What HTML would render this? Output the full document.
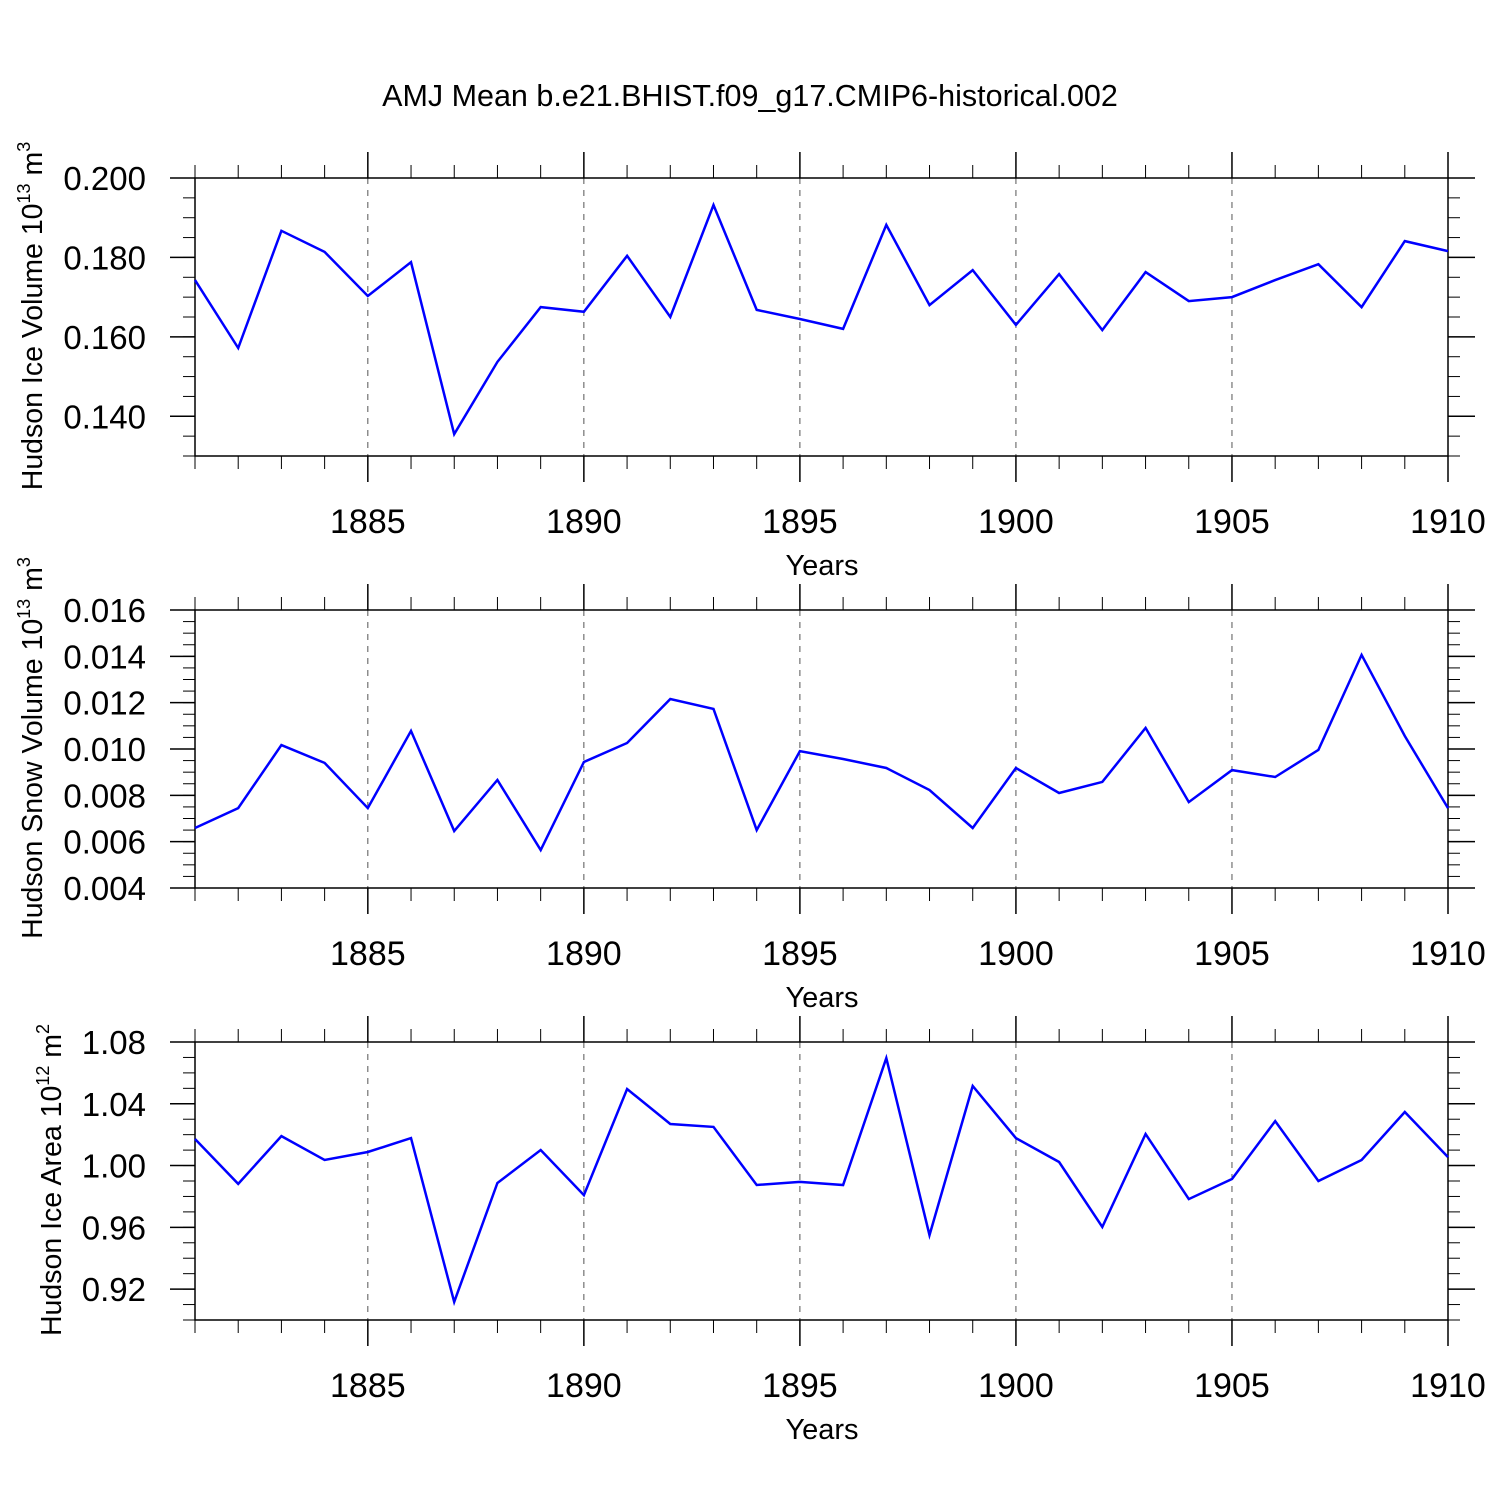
<!DOCTYPE html>
<html><head><meta charset="utf-8"><style>
html,body{margin:0;padding:0;background:#fff;}
svg{display:block;font-family:"Liberation Sans",sans-serif;}
</style></head><body>
<svg id="chart" width="1500" height="1500" viewBox="0 0 1500 1500">
<text x="750" y="106" text-anchor="middle" font-size="30.5">AMJ Mean b.e21.BHIST.f09_g17.CMIP6-historical.002</text>
</svg>
<script>
const years = [1881,1882,1883,1884,1885,1886,1887,1888,1889,1890,1891,1892,1893,1894,1895,1896,1897,1898,1899,1900,1901,1902,1903,1904,1905,1906,1907,1908,1909,1910];
const iceVolume = [0.1743,0.1572,0.1867,0.1814,0.1703,0.1788,0.1355,0.1537,0.1675,0.1663,0.1804,0.1650,0.1932,0.1668,0.1645,0.1620,0.1882,0.1680,0.1768,0.1630,0.1758,0.1617,0.1763,0.1690,0.1700,0.1743,0.1783,0.1675,0.1841,0.1816];
const snowVolume = [0.00659,0.00745,0.01017,0.00940,0.00745,0.01078,0.00646,0.00866,0.00564,0.00944,0.01026,0.01216,0.01173,0.00650,0.00991,0.00957,0.00918,0.00823,0.00659,0.00918,0.00810,0.00858,0.01091,0.00771,0.00909,0.00879,0.00996,0.01406,0.01056,0.00745];
const iceArea = [1.0172,0.9881,1.0191,1.0036,1.0088,1.0178,0.9117,0.9887,1.0101,0.9809,1.0496,1.0269,1.0250,0.9874,0.9894,0.9874,1.0696,0.9550,1.0515,1.0178,1.0023,0.9602,1.0204,0.9783,0.9913,1.0288,0.9900,1.0036,1.0347,1.0055];
const xTickLabels = [1885,1890,1895,1900,1905,1910];
const iceVolTicks = ["0.140","0.160","0.180","0.200"];
const snowVolTicks = ["0.004","0.006","0.008","0.010","0.012","0.014","0.016"];
const iceAreaTicks = ["0.92","0.96","1.00","1.04","1.08"];

const NS="http://www.w3.org/2000/svg";
const svg=document.getElementById('chart');
function mk(tag,attrs,parent){const e=document.createElementNS(NS,tag);for(const k in attrs)e.setAttribute(k,attrs[k]);(parent||svg).appendChild(e);return e;}
const L=195,R=1448,H=278;
const xScale=y=>L+(y-1881)/(1910-1881)*(R-L);

const panels=[
 {name:'ice-volume',top:178,min:0.130,max:0.200,data:iceVolume,ticks:iceVolTicks,minor:0.005,title:'Hudson Ice Volume 10',sup:'13',unit:' m',usup:'3',tx:42},
 {name:'snow-volume',top:610,min:0.004,max:0.016,data:snowVolume,ticks:snowVolTicks,minor:0.0005,title:'Hudson Snow Volume 10',sup:'13',unit:' m',usup:'3',tx:42},
 {name:'ice-area',top:1042,min:0.90,max:1.08,data:iceArea,ticks:iceAreaTicks,minor:0.01,title:'Hudson Ice Area 10',sup:'12',unit:' m',usup:'2',tx:61}
];
panels.forEach(p=>{
 const g=mk('g',{});
 
 
 const B=p.top+H;
 const yScale=v=>B-(v-p.min)/(p.max-p.min)*H;
 xTickLabels.forEach(y=>{if(y<1910){const l=mk('line',{x1:xScale(y),x2:xScale(y),y1:p.top,y2:B,stroke:'#555','stroke-width':1,'stroke-dasharray':'6,6'},g);
  }});
 for(let y=1881;y<=1910;y++){const major=y%5===0;const len=major?26:13;
  mk('line',{x1:xScale(y),x2:xScale(y),y1:p.top,y2:p.top-len,stroke:'#000','stroke-width':major?1.5:1},g);
  mk('line',{x1:xScale(y),x2:xScale(y),y1:B,y2:B+len,stroke:'#000','stroke-width':major?1.5:1},g);}
 const n=Math.round((p.max-p.min)/p.minor);
 for(let i=0;i<=n;i++){const yy=yScale(p.min+i*p.minor);
  mk('line',{x1:L,x2:L-12,y1:yy,y2:yy,stroke:'#000','stroke-width':1},g);
  mk('line',{x1:R,x2:R+12,y1:yy,y2:yy,stroke:'#000','stroke-width':1},g);}
 p.ticks.forEach(t=>{const yy=yScale(parseFloat(t));
  mk('line',{x1:L,x2:L-25,y1:yy,y2:yy,stroke:'#000','stroke-width':1.5},g);
  mk('line',{x1:R,x2:R+27,y1:yy,y2:yy,stroke:'#000','stroke-width':1.5},g);
  const tx=mk('text',{x:146,y:yy+12,'text-anchor':'end','font-size':33},g);tx.textContent=t;
  });
 const fr=mk('rect',{x:L,y:p.top,width:R-L,height:H,fill:'none',stroke:'#000','stroke-width':1.5},g);
 
 xTickLabels.forEach(y=>{const t=mk('text',{x:xScale(y),y:B+77,'text-anchor':'middle','font-size':34},g);t.textContent=y;
  });
 const xt=mk('text',{x:822,y:B+119,'text-anchor':'middle','font-size':29},g);xt.textContent='Years';
 
 const cy=p.top+138;
 const yt=mk('text',{x:0,y:0,'text-anchor':'middle','font-size':28.5,transform:`translate(${p.tx},${cy}) rotate(-90)`},g);
 
 const a=document.createElementNS(NS,'tspan');a.textContent=p.title;yt.appendChild(a);
 const b=document.createElementNS(NS,'tspan');b.setAttribute('dy','-12');b.setAttribute('font-size','18');b.textContent=p.sup;yt.appendChild(b);
 const c=document.createElementNS(NS,'tspan');c.setAttribute('dy','12');c.textContent=p.unit;yt.appendChild(c);
 const d=document.createElementNS(NS,'tspan');d.setAttribute('dy','-12');d.setAttribute('font-size','18');d.textContent=p.usup;yt.appendChild(d);
 const pts=p.data.map((v,i)=>xScale(years[i]).toFixed(1)+','+yScale(v).toFixed(1)).join(' ');
 const pl=mk('polyline',{points:pts,fill:'none',stroke:'#0000ff','stroke-width':2.5,'stroke-linejoin':'miter'},g);
 
 
});
</script>
</body></html>
